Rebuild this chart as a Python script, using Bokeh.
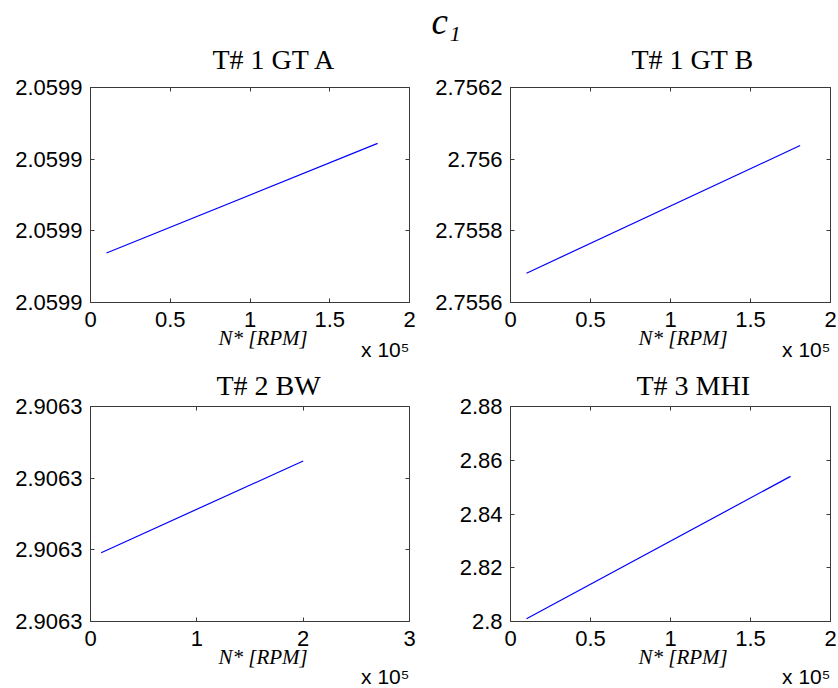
from bokeh.plotting import figure
from bokeh.layouts import gridplot
from bokeh.models import (Range1d, FixedTicker, LinearAxis, CustomJSTickFormatter,
                          NumeralTickFormatter, Title)
from bokeh.embed import file_html
from bokeh.resources import INLINE

# ---------------- data ----------------
main_title = "c\u2081"
titles = ["T# 1 GT A", "T# 1 GT B", "T# 2 BW", "T# 3 MHI"]
x_label = "N* [RPM]"
x_scale_note = "x 10\u2075"

rpm_gt_a = [1.0e4, 1.80e5]
c1_gt_a = [2.0598869, 2.0599022]
rpm_gt_b = [1.0e4, 1.81e5]
c1_gt_b = [2.7556818, 2.7560380]
rpm_bw = [1.0e4, 2.0e5]
c1_bw = [2.9062796, 2.9062924]
rpm_mhi = [1.0e4, 1.75e5]
c1_mhi = [2.8010, 2.8540]

x_ticks_2 = [0, 5e4, 1e5, 1.5e5, 2e5]
x_labels_2 = ["0", "0.5", "1", "1.5", "2"]
x_ticks_3 = [0, 1e5, 2e5, 3e5]
x_labels_3 = ["0", "1", "2", "3"]

y_ticks_a = [2.05988, 2.05989, 2.05990, 2.05991]
y_ticks_b = [2.7556, 2.7558, 2.7560, 2.7562]
y_ticks_bw = [2.90627, 2.90628, 2.90629, 2.90630]
y_ticks_mhi = [2.80, 2.82, 2.84, 2.86, 2.88]

# ---------------- style ----------------
AX = "#3a3a3a"
SANS = "Liberation Sans"
SERIF = "Liberation Serif"
FRAME_H = 215
TOP_H = 360
BOT_H = 688 - TOP_H


def blank_axis(ticker):
    return LinearAxis(ticker=ticker, formatter=CustomJSTickFormatter(code="return ''"),
                      major_label_text_font_size="1px", major_label_standoff=0,
                      major_tick_in=4, major_tick_out=0, minor_tick_line_color=None,
                      axis_line_color=AX, major_tick_line_color=AX)


def make_title(text, align, offset, font, size, style, valign, standoff):
    return Title(text=text, align=align, offset=offset, text_font=font,
                 text_font_size=size, text_font_style=style, vertical_align=valign,
                 standoff=standoff, text_color="black")


def panel(xs, ys, xt, xl, yt, xmax, title, t_off, height, mb_left, mb_right,
          mb_top, mb_bottom, t_std, lab_std, note_std):
    p = figure(width=419, height=height, output_backend="svg", toolbar_location=None,
               x_range=Range1d(0, xmax), y_range=Range1d(yt[0], yt[-1]),
               min_border_left=mb_left, min_border_right=mb_right,
               min_border_top=mb_top, min_border_bottom=mb_bottom)
    p.xgrid.visible = False
    p.ygrid.visible = False
    p.outline_line_color = AX
    p.outline_line_width = 1
    p.line(xs, ys, line_color="#0000ff", line_width=1.2)

    xa = p.xaxis[0]
    xa.ticker = FixedTicker(ticks=xt)
    xa.major_label_overrides = {t: l for t, l in zip(xt, xl)}
    ya = p.yaxis[0]
    ya.ticker = FixedTicker(ticks=yt)
    ya.formatter = NumeralTickFormatter(format="0.0[000]")
    for a in (xa, ya):
        a.major_tick_in = 4
        a.major_tick_out = 0
        a.minor_tick_line_color = None
        a.axis_line_color = AX
        a.major_tick_line_color = AX
        a.major_label_text_font = SANS
        a.major_label_text_font_size = "22px"
        a.major_label_text_color = "black"
    xa.major_label_standoff = 9
    ya.major_label_standoff = 8
    p.add_layout(blank_axis(FixedTicker(ticks=yt)), "right")
    p.add_layout(blank_axis(FixedTicker(ticks=xt)), "above")

    p.add_layout(make_title(title, "left", t_off, SERIF, "28px", "normal", "bottom", t_std), "above")
    p.add_layout(make_title(x_label, "left", 128, SERIF, "21px", "italic", "top", lab_std), "below")
    p.add_layout(make_title(x_scale_note, "right", 0, SANS, "21px", "normal", "top", note_std), "below")
    return p


p1 = panel(rpm_gt_a, c1_gt_a, x_ticks_2, x_labels_2, y_ticks_a, 2e5, titles[0], 122,
           TOP_H, 90, 10, 87, TOP_H - 87 - FRAME_H, 26, -7.4, -21.4)
p2 = panel(rpm_gt_b, c1_gt_b, x_ticks_2, x_labels_2, y_ticks_b, 2e5, titles[1], 121,
           TOP_H, 91, 8, 87, TOP_H - 87 - FRAME_H, 26, -7.4, -21.4)
p3 = panel(rpm_bw, c1_bw, x_ticks_3, x_labels_3, y_ticks_bw, 3e5, titles[2], 126,
           BOT_H, 90, 10, 406 - TOP_H, BOT_H - (406 - TOP_H) - FRAME_H, 11, -7.4, -4.4)
p4 = panel(rpm_mhi, c1_mhi, x_ticks_2, x_labels_2, y_ticks_mhi, 2e5, titles[3], 126,
           BOT_H, 91, 8, 406 - TOP_H, BOT_H - (406 - TOP_H) - FRAME_H, 11, -7.4, -4.4)

# main title c_1, carried by the top-right plot and shifted left of its frame
p2.title = make_title(main_title, "left", -79, SERIF, "37px", "italic", "bottom", -26)

grid = gridplot([[p1, p2], [p3, p4]], toolbar_location=None)

open("out.html", "w").write(file_html(grid, INLINE))
